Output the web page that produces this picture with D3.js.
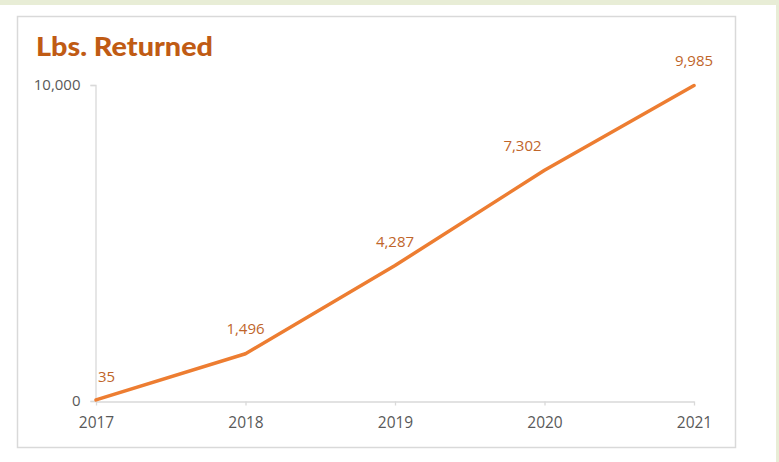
<!DOCTYPE html>
<html>
<head>
<meta charset="utf-8">
<script src="https://cdn.jsdelivr.net/npm/d3@7"></script>
<style>
  html, body { margin: 0; padding: 0; background: #ffffff; }
  svg { display: block; }
</style>
</head>
<body>
<svg id="chart" width="779" height="462"></svg>
<script>
// Pounds returned per year
const years = ["2017", "2018", "2019", "2020", "2021"];
const lbsReturned = [35, 1496, 4287, 7302, 9985];
const yTicks = [0, 10000];
// label nudges (dx, dy) in px relative to each point
const labelDx = [2, 0, 0, -22, 0];
const labelDy = [-24, -26, -25, -25, -25];

const svg = d3.select("#chart");
const W = 779, H = 462;

// page frame: pale green band on top and right edge
svg.append("rect").attr("x", 0).attr("y", 0).attr("width", W).attr("height", H).attr("fill", "#ffffff");
svg.append("rect").attr("x", 0).attr("y", 0).attr("width", W).attr("height", 5).attr("fill", "#e8edd6");
svg.append("rect").attr("x", 776).attr("y", 0).attr("width", 3).attr("height", H).attr("fill", "#e8edd6");

// chart box
svg.append("rect")
  .attr("x", 17.5).attr("y", 16.5).attr("width", 718).attr("height", 431)
  .attr("fill", "#ffffff").attr("stroke", "#d9d9d9").attr("stroke-width", 1.5);

// title
svg.append("text")
  .attr("x", 36).attr("y", 56)
  .attr("font-family", "Lato, 'Open Sans', sans-serif")
  .attr("font-weight", 900)
  .attr("font-size", 26)
  .attr("fill", "#c05b14")
  .attr("textLength", 177)
  .attr("lengthAdjust", "spacingAndGlyphs")
  .text("Lbs. Returned");

const x = d3.scalePoint().domain(years).range([96, 694]);
const y = d3.scaleLinear().domain([0, 10000]).range([401, 85]);

const fmt = d3.format(",");
const axisFont = "'Open Sans', 'Liberation Sans', sans-serif";

// y axis
const yAxis = svg.append("g")
  .attr("transform", "translate(95.5,0)")
  .call(d3.axisLeft(y).tickValues(yTicks).tickFormat(fmt).tickSize(5).tickPadding(10));
yAxis.select(".domain").attr("stroke", "#d9d9d9").attr("stroke-width", 1.3);
yAxis.selectAll(".tick line").attr("stroke", "#d9d9d9").attr("stroke-width", 1.3);
yAxis.selectAll(".tick text")
  .attr("font-family", axisFont).attr("font-size", 15).attr("fill", "#595959");

// x axis
const xAxis = svg.append("g")
  .attr("transform", "translate(0,401.5)")
  .call(d3.axisBottom(x).tickSize(4).tickSizeOuter(0).tickPadding(11));
xAxis.select(".domain").attr("stroke", "#d9d9d9").attr("stroke-width", 1.3);
xAxis.selectAll(".tick line").attr("stroke", "#d9d9d9").attr("stroke-width", 1.3);
xAxis.selectAll(".tick text")
  .attr("font-family", axisFont).attr("font-size", 15.5).attr("fill", "#595959");

const pts = years.map((yr, i) => ({ yr, v: lbsReturned[i], i }));

// series line
svg.append("path")
  .datum(pts)
  .attr("fill", "none")
  .attr("stroke", "#ed7d31")
  .attr("stroke-width", 3.5)
  .attr("stroke-linejoin", "round")
  .attr("stroke-linecap", "round")
  .attr("d", d3.line().x(d => x(d.yr)).y(d => y(d.v)));

// data labels
svg.append("g").selectAll("text")
  .data(pts)
  .join("text")
  .attr("x", d => x(d.yr) + labelDx[d.i])
  .attr("y", d => y(d.v) + labelDy[d.i])
  .attr("text-anchor", d => d.i === 0 ? "start" : "middle")
  .attr("dominant-baseline", "central")
  .attr("font-family", axisFont)
  .attr("font-size", 15)
  .attr("fill", "#c0652a")
  .text(d => fmt(d.v));
</script>
</body>
</html>
